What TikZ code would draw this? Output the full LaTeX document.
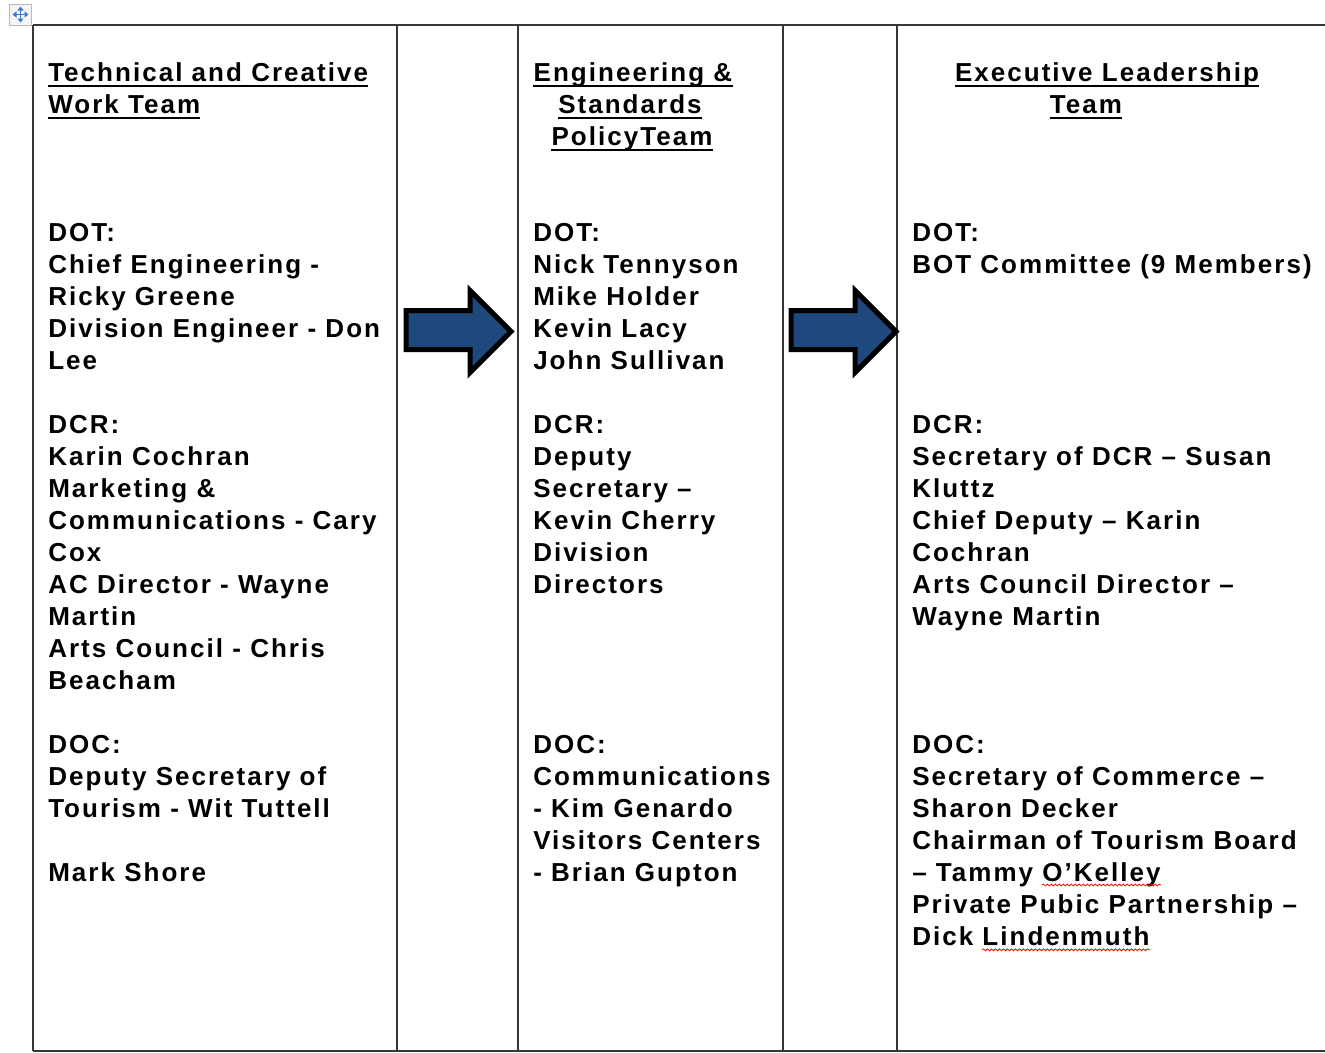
\documentclass[tikz,border=0pt]{standalone}
\usepackage{fontspec}
\setmainfont{Liberation Sans}[LetterSpace=7.8]
\usetikzlibrary{arrows.meta,decorations.pathmorphing}
\definecolor{arrowblue}{RGB}{31,73,125}
\definecolor{gridline}{RGB}{55,55,55}
\definecolor{iconblue}{RGB}{60,120,215}
\begin{document}
\begin{tikzpicture}[x=0.75pt,y=-0.75pt,
  txt/.style={anchor=base west,inner sep=0pt,font=\bfseries\fontsize{19.5pt}{24pt}\selectfont},
  ctxt/.style={txt,anchor=base},
  ul/.style={line width=1.6pt},
  rulel/.style={line width=1.5pt,draw=gridline},
  blockarrow/.style={fill=arrowblue,draw=black,line width=3.75pt,line join=miter},
  spell/.style={draw=red,line width=0.6pt,decorate,decoration={snake,amplitude=0.7pt,segment length=3pt}}]
\useasboundingbox (0,0) rectangle (1325,1053);
% table rules
\draw[rulel] (33,25) -- (1325,25);
\draw[rulel] (33,1051) -- (1325,1051);
\foreach \x in {33,397,518,783,897} \draw[rulel] (\x,25) -- (\x,1051);
% move handle icon
\draw[draw=gray!55,fill=gray!8,line width=0.8pt] (9.5,4.5) rectangle (31.5,25.5);
\draw[iconblue,line width=1.1pt,{Triangle[length=3pt,width=4.5pt]}-{Triangle[length=3pt,width=4.5pt]}] (12.5,14.5) -- (28.5,14.5);
\draw[iconblue,line width=1.1pt,{Triangle[length=3pt,width=4.5pt]}-{Triangle[length=3pt,width=4.5pt]}] (20.5,6.5) -- (20.5,22.5);
% block arrows
\draw[blockarrow] (406,310.5) -- (470,310.5) -- (470,290.5) -- (511,331.5) -- (470,372.5) -- (470,349.5) -- (406,349.5) -- cycle;
\draw[blockarrow] (791,310.5) -- (855,310.5) -- (855,290.5) -- (896,331.5) -- (855,372.5) -- (855,349.5) -- (791,349.5) -- cycle;
% column 1
\node[txt] (c1-0) at (48,81) {Technical and Creative};
\node[txt] (c1-1) at (48,113) {Work Team};
\draw[ul] ([yshift=-3.5pt]c1-0.base west) -- ([yshift=-3.5pt]c1-0.base east);
\draw[ul] ([yshift=-3.5pt]c1-1.base west) -- ([yshift=-3.5pt]c1-1.base east);
\foreach \n/\t in {5/DOT:,6/Chief Engineering -,7/Ricky Greene,8/Division Engineer - Don,9/Lee,
  11/DCR:,12/Karin Cochran,13/Marketing \&,14/Communications - Cary,15/Cox,16/AC Director - Wayne,
  17/Martin,18/Arts Council - Chris,19/Beacham,21/DOC:,22/Deputy Secretary of,23/Tourism - Wit Tuttell,
  25/Mark Shore}
  \node[txt] (c1-\n) at (48,{81+32*\n}) {\t};
% column 2
\node[ctxt] (c2-0) at (633,81) {Engineering \&};
\node[ctxt] (c2-1) at (630,113) {Standards};
\node[ctxt] (c2-2) at (632,145) {PolicyTeam};
\foreach \n in {0,1,2}
  \draw[ul] ([yshift=-3.5pt]c2-\n.base west) -- ([yshift=-3.5pt]c2-\n.base east);
\foreach \n/\t in {5/DOT:,6/Nick Tennyson,7/Mike Holder,8/Kevin Lacy,9/John Sullivan,
  11/DCR:,12/Deputy,13/Secretary –,14/Kevin Cherry,15/Division,16/Directors,
  21/DOC:,22/Communications,23/- Kim Genardo,24/Visitors Centers,25/- Brian Gupton}
  \node[txt] (c2-\n) at (533,{81+32*\n}) {\t};
% column 3
\node[ctxt] (c3-0) at (1107,81) {Executive Leadership};
\node[ctxt] (c3-1) at (1086,113) {Team};
\foreach \n in {0,1}
  \draw[ul] ([yshift=-3.5pt]c3-\n.base west) -- ([yshift=-3.5pt]c3-\n.base east);
\foreach \n/\t in {5/DOT:,6/BOT Committee (9 Members),
  11/DCR:,12/Secretary of DCR – Susan,13/Kluttz,14/Chief Deputy – Karin,15/Cochran,
  16/Arts Council Director –,17/Wayne Martin,
  21/DOC:,22/Secretary of Commerce –,23/Sharon Decker,24/Chairman of Tourism Board,
  26/Private Pubic Partnership –}
  \node[txt] (c3-\n) at (912,{81+32*\n}) {\t};
\node[txt] (c3-25) at (912,881) {– Tammy};
\node[txt] (okelley) at ([xshift=6.5pt]c3-25.base east) {O’Kelley};
\node[txt] (c3-27) at (912,945) {Dick};
\node[txt] (linden) at ([xshift=6.5pt]c3-27.base east) {Lindenmuth};
\draw[spell] ([yshift=-3pt]okelley.base west) -- ([yshift=-3pt]okelley.base east);
\draw[spell] ([yshift=-3.6pt]linden.base west) -- ([yshift=-3.6pt]linden.base east);
\end{tikzpicture}
\end{document}
